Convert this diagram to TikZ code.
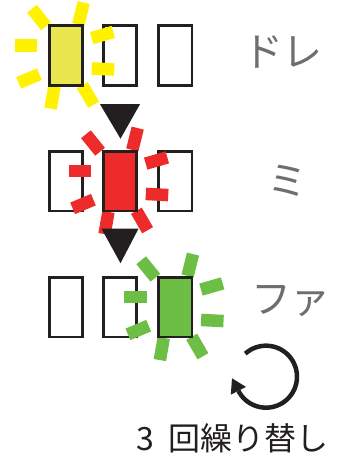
\documentclass[tikz,border=0pt]{standalone}
\usepackage{fontspec}
\newfontfamily\jp{Noto Sans CJK JP}
\usetikzlibrary{calc}
\definecolor{ink}{HTML}{231F20}
\definecolor{yray}{HTML}{FFF200}
\definecolor{ybox}{HTML}{E9E64F}
\definecolor{rcol}{HTML}{EE2B2B}
\definecolor{gcol}{HTML}{6DBE45}
\definecolor{lblgray}{HTML}{6D6E71}
\tikzset{
  keybox/.style={rectangle, draw=ink, line width=2.7pt, minimum width=33.3pt, minimum height=59.7pt, inner sep=0pt, fill=white},
  ray/.style={rectangle, minimum width=22.5pt, minimum height=12.5pt, inner sep=0pt, draw=none},
  lbl/.style={font=\jp\fontsize{40}{48}\selectfont, text=lblgray, inner sep=0pt},
  note/.style={font=\jp\fontsize{32}{38}\selectfont, text=ink, inner sep=0pt},
  downtri/.style={fill=ink},
}
\begin{document}
\begin{tikzpicture}[x=1pt,y=-1pt]
\useasboundingbox (0,0) rectangle (346,459);
% row centres
\coordinate (cY) at (66,55.5);
\coordinate (cR) at (120,181);
\coordinate (cG) at (175.3,307);
% plain keys
\node[keybox] (a2) at (120,55.5) {};
\node[keybox] (a3) at (175.3,55.5) {};
\node[keybox] (b1) at (66,181) {};
\node[keybox] (b3) at (175.3,181) {};
\node[keybox] (c1) at (66,307) {};
\node[keybox] (c2) at (120,307) {};
% rays
\foreach \ctr/\col in {cY/yray, cR/rcol, cG/gcol}{
  \foreach \dx/\dy/\ang [count=\i] in {-40/-10/0, 37/13.5/-3, 36.5/-20.5/16, 15/-42/76, -27/-38/-51, -37/23/22.7, -13.5/42/80, 22/39.5/-60}{
    \path (\ctr) ++(\dx,\dy) node[ray, fill=\col, rotate=\ang] (\ctr-ray\i) {};
  }
}
% lit keys
\node[keybox, fill=ybox] (a1) at (cY) {};
\node[keybox, fill=rcol] (b2) at (cR) {};
\node[keybox, fill=gcol] (c3) at (cG) {};
% arrows between rows
\coordinate (t1) at ($(a2.south)+(0,17.5)$);
\coordinate (t2) at ($(b2.south)+(0,16.5)$);
\fill[downtri] ($(t1)+(-20,0)$) -- ($(t1)+(20,0)$) -- ($(t1)+(0.5,34.5)$) -- cycle;
\fill[downtri] ($(t2)+(-18.5,0)$) -- ($(t2)+(18.5,0)$) -- ($(t2)+(0.5,34.5)$) -- cycle;
% labels
\node[lbl, anchor=base] (l1) at (283,66) {ドレ};
\node[lbl, anchor=base] (l2) at (287.5,195) {ミ};
\node[lbl, anchor=base] (l3) at (291,313) {ファ};
% repeat arrow
\coordinate (ac) at (266,376.7);
\draw[ink, line width=4.5pt] (ac) ++(-132:31) arc[start angle=-132, end angle=153, radius=31];
\coordinate (ab) at ($(ac)+(153:31)$);
\fill[ink] ($(ab)+(243:14)$) -- ($(ab)+(153:8.5)$) -- ($(ab)+(333:8.5)$) -- cycle;
\node[note, anchor=base west] (n1) at (136,450) {3\hspace{15pt}回繰り替し};
\end{tikzpicture}
\end{document}
